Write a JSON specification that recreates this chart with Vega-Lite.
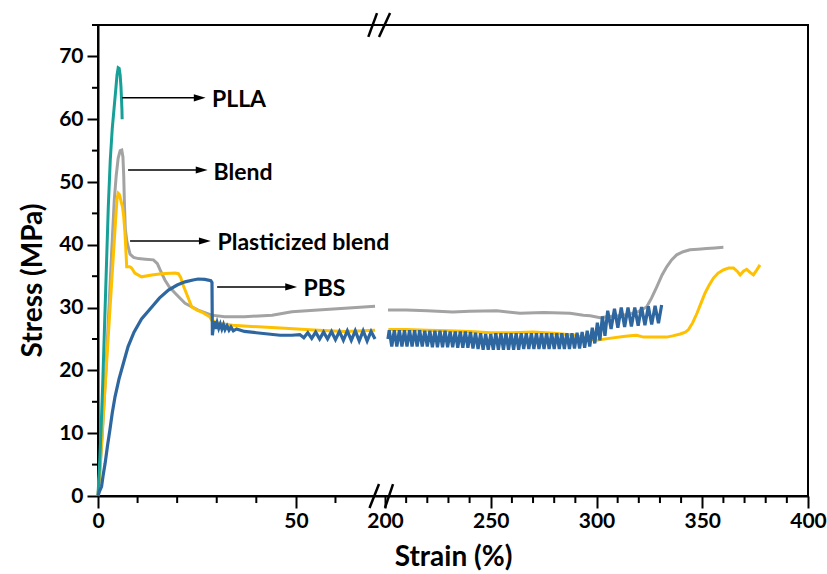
{
  "$schema": "https://vega.github.io/schema/vega-lite/v6.json",
  "width": 710,
  "height": 471,
  "autosize": "none",
  "padding": {"left": 98, "top": 25, "right": 19, "bottom": 78},
  "background": "white",
  "config": {"view": {"stroke": "black", "strokeWidth": 2}, "font": "Lato", "axis": {"labelOverlap": false, "labelFlush": false}},
  "datasets": {
    "curves": [
      {"m":"PLLA","s":"L","x":0,"y":0},{"m":"PLLA","s":"L","x":0.4,"y":5},{"m":"PLLA","s":"L","x":0.8,"y":11},{"m":"PLLA","s":"L","x":1.2,"y":18},{"m":"PLLA","s":"L","x":1.6,"y":26},{"m":"PLLA","s":"L","x":2.1,"y":36},{"m":"PLLA","s":"L","x":2.6,"y":46},{"m":"PLLA","s":"L","x":3.1,"y":53.5},{"m":"PLLA","s":"L","x":3.6,"y":58.5},{"m":"PLLA","s":"L","x":4.1,"y":62},{"m":"PLLA","s":"L","x":4.5,"y":64.8},{"m":"PLLA","s":"L","x":4.8,"y":67},{"m":"PLLA","s":"L","x":5.1,"y":68.2},{"m":"PLLA","s":"L","x":5.35,"y":68.1},{"m":"PLLA","s":"L","x":5.6,"y":67},{"m":"PLLA","s":"L","x":5.8,"y":65.2},{"m":"PLLA","s":"L","x":5.95,"y":63},{"m":"PLLA","s":"L","x":6.05,"y":61.5},{"m":"PLLA","s":"L","x":6.1,"y":60},

      {"m":"Blend","s":"L","x":0,"y":0},{"m":"Blend","s":"L","x":0.5,"y":4},{"m":"Blend","s":"L","x":1,"y":9},{"m":"Blend","s":"L","x":1.5,"y":14.5},{"m":"Blend","s":"L","x":2,"y":20},{"m":"Blend","s":"L","x":2.5,"y":26.5},{"m":"Blend","s":"L","x":3,"y":33},{"m":"Blend","s":"L","x":3.5,"y":39.5},{"m":"Blend","s":"L","x":4.1,"y":47},{"m":"Blend","s":"L","x":4.6,"y":51},{"m":"Blend","s":"L","x":5.1,"y":53.8},{"m":"Blend","s":"L","x":5.6,"y":55},{"m":"Blend","s":"L","x":6.0,"y":55.1},{"m":"Blend","s":"L","x":6.3,"y":54},{"m":"Blend","s":"L","x":6.5,"y":51},{"m":"Blend","s":"L","x":6.7,"y":46},{"m":"Blend","s":"L","x":6.9,"y":42.5},{"m":"Blend","s":"L","x":7.3,"y":40.5},{"m":"Blend","s":"L","x":8.1,"y":38.5},{"m":"Blend","s":"L","x":9,"y":38},{"m":"Blend","s":"L","x":10.2,"y":37.8},{"m":"Blend","s":"L","x":12,"y":37.7},{"m":"Blend","s":"L","x":14,"y":37.6},{"m":"Blend","s":"L","x":15,"y":37},{"m":"Blend","s":"L","x":15.7,"y":36},{"m":"Blend","s":"L","x":16.9,"y":34.4},{"m":"Blend","s":"L","x":18,"y":33.3},{"m":"Blend","s":"L","x":19.5,"y":32.3},{"m":"Blend","s":"L","x":22,"y":30.7},{"m":"Blend","s":"L","x":25.3,"y":29.6},{"m":"Blend","s":"L","x":28.7,"y":28.8},{"m":"Blend","s":"L","x":32,"y":28.55},{"m":"Blend","s":"L","x":37,"y":28.55},{"m":"Blend","s":"L","x":44,"y":28.8},{"m":"Blend","s":"L","x":49,"y":29.35},{"m":"Blend","s":"L","x":55.6,"y":29.6},{"m":"Blend","s":"L","x":62.4,"y":29.9},{"m":"Blend","s":"L","x":70,"y":30.2},
      {"m":"Blend","s":"R","x":201.4,"y":29.6},{"m":"Blend","s":"R","x":210,"y":29.6},{"m":"Blend","s":"R","x":220,"y":29.5},{"m":"Blend","s":"R","x":232,"y":29.3},{"m":"Blend","s":"R","x":240,"y":29.4},{"m":"Blend","s":"R","x":252.8,"y":29.5},{"m":"Blend","s":"R","x":263.8,"y":29.1},{"m":"Blend","s":"R","x":275,"y":29.2},{"m":"Blend","s":"R","x":287.5,"y":29.1},{"m":"Blend","s":"R","x":293.8,"y":28.8},{"m":"Blend","s":"R","x":297,"y":28.7},{"m":"Blend","s":"R","x":301.7,"y":28.4},{"m":"Blend","s":"R","x":304.8,"y":28.55},{"m":"Blend","s":"R","x":310,"y":28.7},{"m":"Blend","s":"R","x":315,"y":28.9},{"m":"Blend","s":"R","x":320,"y":29.4},{"m":"Blend","s":"R","x":323.7,"y":30.1},{"m":"Blend","s":"R","x":326,"y":31.5},{"m":"Blend","s":"R","x":328.5,"y":33.3},{"m":"Blend","s":"R","x":331,"y":35.2},{"m":"Blend","s":"R","x":333.2,"y":36.5},{"m":"Blend","s":"R","x":335.5,"y":37.6},{"m":"Blend","s":"R","x":337.9,"y":38.4},{"m":"Blend","s":"R","x":341,"y":38.9},{"m":"Blend","s":"R","x":344.2,"y":39.2},{"m":"Blend","s":"R","x":348,"y":39.3},{"m":"Blend","s":"R","x":352.1,"y":39.4},{"m":"Blend","s":"R","x":356,"y":39.5},{"m":"Blend","s":"R","x":360,"y":39.6},

      {"m":"Plasticized blend","s":"L","x":0,"y":0},{"m":"Plasticized blend","s":"L","x":0.5,"y":4.5},{"m":"Plasticized blend","s":"L","x":1,"y":9.5},{"m":"Plasticized blend","s":"L","x":1.5,"y":14.5},{"m":"Plasticized blend","s":"L","x":2,"y":19.5},{"m":"Plasticized blend","s":"L","x":2.5,"y":24.5},{"m":"Plasticized blend","s":"L","x":3,"y":29.5},{"m":"Plasticized blend","s":"L","x":3.5,"y":34.5},{"m":"Plasticized blend","s":"L","x":4,"y":39.5},{"m":"Plasticized blend","s":"L","x":4.5,"y":44.5},{"m":"Plasticized blend","s":"L","x":4.8,"y":47.3},{"m":"Plasticized blend","s":"L","x":5.1,"y":48.2},{"m":"Plasticized blend","s":"L","x":5.4,"y":48},{"m":"Plasticized blend","s":"L","x":5.8,"y":47},{"m":"Plasticized blend","s":"L","x":6.2,"y":46},{"m":"Plasticized blend","s":"L","x":6.5,"y":44.5},{"m":"Plasticized blend","s":"L","x":6.8,"y":42},{"m":"Plasticized blend","s":"L","x":7.0,"y":39.7},{"m":"Plasticized blend","s":"L","x":7.25,"y":36.5},{"m":"Plasticized blend","s":"L","x":8,"y":36.5},{"m":"Plasticized blend","s":"L","x":8.5,"y":36.3},{"m":"Plasticized blend","s":"L","x":9.3,"y":35.5},{"m":"Plasticized blend","s":"L","x":11,"y":34.9},{"m":"Plasticized blend","s":"L","x":13.6,"y":35.2},{"m":"Plasticized blend","s":"L","x":16,"y":35.4},{"m":"Plasticized blend","s":"L","x":19.5,"y":35.5},{"m":"Plasticized blend","s":"L","x":20.3,"y":35.4},{"m":"Plasticized blend","s":"L","x":20.9,"y":34.8},{"m":"Plasticized blend","s":"L","x":21.5,"y":33.6},{"m":"Plasticized blend","s":"L","x":22,"y":32.8},{"m":"Plasticized blend","s":"L","x":23,"y":31.2},{"m":"Plasticized blend","s":"L","x":23.7,"y":30.1},{"m":"Plasticized blend","s":"L","x":25,"y":29.6},{"m":"Plasticized blend","s":"L","x":26.2,"y":29.3},{"m":"Plasticized blend","s":"L","x":28.3,"y":28.5},{"m":"Plasticized blend","s":"L","x":28.7,"y":28.0},{"m":"Plasticized blend","s":"L","x":30.4,"y":27.5},{"m":"Plasticized blend","s":"L","x":34,"y":27.2},{"m":"Plasticized blend","s":"L","x":38.8,"y":27.0},{"m":"Plasticized blend","s":"L","x":47.2,"y":26.7},{"m":"Plasticized blend","s":"L","x":55.7,"y":26.4},{"m":"Plasticized blend","s":"L","x":62.4,"y":26.2},{"m":"Plasticized blend","s":"L","x":70,"y":26.4},
      {"m":"Plasticized blend","s":"R","x":201.6,"y":26.5},{"m":"Plasticized blend","s":"R","x":210,"y":26.5},{"m":"Plasticized blend","s":"R","x":220,"y":26.4},{"m":"Plasticized blend","s":"R","x":230,"y":26.3},{"m":"Plasticized blend","s":"R","x":240,"y":26.2},{"m":"Plasticized blend","s":"R","x":250,"y":26.0},{"m":"Plasticized blend","s":"R","x":260,"y":26.0},{"m":"Plasticized blend","s":"R","x":270,"y":26.1},{"m":"Plasticized blend","s":"R","x":280,"y":25.9},{"m":"Plasticized blend","s":"R","x":290,"y":25.6},{"m":"Plasticized blend","s":"R","x":296,"y":25.0},{"m":"Plasticized blend","s":"R","x":300,"y":24.8},{"m":"Plasticized blend","s":"R","x":306,"y":25.1},{"m":"Plasticized blend","s":"R","x":312.7,"y":25.4},{"m":"Plasticized blend","s":"R","x":316,"y":25.5},{"m":"Plasticized blend","s":"R","x":319,"y":25.6},{"m":"Plasticized blend","s":"R","x":322.3,"y":25.3},{"m":"Plasticized blend","s":"R","x":328,"y":25.3},{"m":"Plasticized blend","s":"R","x":333.2,"y":25.3},{"m":"Plasticized blend","s":"R","x":336,"y":25.5},{"m":"Plasticized blend","s":"R","x":339.6,"y":25.8},{"m":"Plasticized blend","s":"R","x":342,"y":26.1},{"m":"Plasticized blend","s":"R","x":343.5,"y":26.5},{"m":"Plasticized blend","s":"R","x":345.5,"y":27.6},{"m":"Plasticized blend","s":"R","x":347.5,"y":29.1},{"m":"Plasticized blend","s":"R","x":349.5,"y":30.8},{"m":"Plasticized blend","s":"R","x":351.3,"y":32.3},{"m":"Plasticized blend","s":"R","x":353.3,"y":33.6},{"m":"Plasticized blend","s":"R","x":355.3,"y":34.7},{"m":"Plasticized blend","s":"R","x":357.5,"y":35.5},{"m":"Plasticized blend","s":"R","x":360,"y":36.0},{"m":"Plasticized blend","s":"R","x":362.5,"y":36.3},{"m":"Plasticized blend","s":"R","x":364.8,"y":36.3},{"m":"Plasticized blend","s":"R","x":366.5,"y":35.8},{"m":"Plasticized blend","s":"R","x":367.9,"y":35.2},{"m":"Plasticized blend","s":"R","x":369.5,"y":35.8},{"m":"Plasticized blend","s":"R","x":371.0,"y":36.1},{"m":"Plasticized blend","s":"R","x":372.6,"y":35.6},{"m":"Plasticized blend","s":"R","x":374.2,"y":35.2},{"m":"Plasticized blend","s":"R","x":375.8,"y":36.0},{"m":"Plasticized blend","s":"R","x":377.3,"y":36.8},

      {"m":"PBS","s":"L","x":0,"y":0},{"m":"PBS","s":"L","x":0.4,"y":0.8},{"m":"PBS","s":"L","x":0.9,"y":1.5},{"m":"PBS","s":"L","x":1.3,"y":3.3},{"m":"PBS","s":"L","x":1.8,"y":5.2},{"m":"PBS","s":"L","x":2.4,"y":8},{"m":"PBS","s":"L","x":3.0,"y":10.5},{"m":"PBS","s":"L","x":3.6,"y":13.2},{"m":"PBS","s":"L","x":4.3,"y":15.8},{"m":"PBS","s":"L","x":5.3,"y":18.6},{"m":"PBS","s":"L","x":6.4,"y":21.1},{"m":"PBS","s":"L","x":7.6,"y":23.8},{"m":"PBS","s":"L","x":9.1,"y":26.1},{"m":"PBS","s":"L","x":11,"y":28.2},{"m":"PBS","s":"L","x":13.6,"y":30.1},{"m":"PBS","s":"L","x":15.5,"y":31.5},{"m":"PBS","s":"L","x":17.8,"y":32.8},{"m":"PBS","s":"L","x":20,"y":33.6},{"m":"PBS","s":"L","x":22,"y":34.1},{"m":"PBS","s":"L","x":24,"y":34.4},{"m":"PBS","s":"L","x":25.3,"y":34.55},{"m":"PBS","s":"L","x":27,"y":34.5},{"m":"PBS","s":"L","x":28.5,"y":34.3},{"m":"PBS","s":"L","x":28.8,"y":34.0},{"m":"PBS","s":"L","x":28.9,"y":25.6},{"m":"PBS","s":"L","x":29.3,"y":27.8},{"m":"PBS","s":"L","x":29.7,"y":26.6},{"m":"PBS","s":"L","x":30.1,"y":27.6},{"m":"PBS","s":"L","x":30.5,"y":26.7},{"m":"PBS","s":"L","x":30.9,"y":27.4},{"m":"PBS","s":"L","x":31.3,"y":26.6},{"m":"PBS","s":"L","x":31.7,"y":27.3},{"m":"PBS","s":"L","x":32.1,"y":26.5},{"m":"PBS","s":"L","x":32.6,"y":27.1},{"m":"PBS","s":"L","x":33.1,"y":26.4},{"m":"PBS","s":"L","x":33.6,"y":26.9},{"m":"PBS","s":"L","x":34.2,"y":26.3},{"m":"PBS","s":"L","x":35,"y":26.6},{"m":"PBS","s":"L","x":37,"y":26.2},{"m":"PBS","s":"L","x":40,"y":26.0},{"m":"PBS","s":"L","x":43,"y":25.8},{"m":"PBS","s":"L","x":46,"y":25.6},{"m":"PBS","s":"L","x":49,"y":25.6},{"m":"PBS","s":"L","x":51,"y":25.7},{"m":"PBS","s":"L","x":52,"y":25.2},{"m":"PBS","s":"L","x":53,"y":26.0},{"m":"PBS","s":"L","x":54,"y":25.1},{"m":"PBS","s":"L","x":55,"y":26.1},{"m":"PBS","s":"L","x":56,"y":25.0},{"m":"PBS","s":"L","x":57,"y":26.1},{"m":"PBS","s":"L","x":58,"y":25.0},{"m":"PBS","s":"L","x":59,"y":26.2},{"m":"PBS","s":"L","x":60,"y":24.9},{"m":"PBS","s":"L","x":61,"y":26.2},{"m":"PBS","s":"L","x":62,"y":24.8},{"m":"PBS","s":"L","x":63,"y":26.3},{"m":"PBS","s":"L","x":64,"y":24.8},{"m":"PBS","s":"L","x":65,"y":26.3},{"m":"PBS","s":"L","x":66,"y":24.7},{"m":"PBS","s":"L","x":67,"y":26.3},{"m":"PBS","s":"L","x":68,"y":24.7},{"m":"PBS","s":"L","x":69,"y":26.2},{"m":"PBS","s":"L","x":70,"y":25.0},
      {"m":"PBS","s":"R","x":201.4,"y":25.0},{"m":"PBS","s":"R","x":202.0,"y":26.4},{"m":"PBS","s":"R","x":203.2,"y":23.8},{"m":"PBS","s":"R","x":204.4,"y":26.4},{"m":"PBS","s":"R","x":205.6,"y":23.8},{"m":"PBS","s":"R","x":206.8,"y":26.4},{"m":"PBS","s":"R","x":208.0,"y":23.8},{"m":"PBS","s":"R","x":209.2,"y":26.4},{"m":"PBS","s":"R","x":210.4,"y":23.8},{"m":"PBS","s":"R","x":211.6,"y":26.4},{"m":"PBS","s":"R","x":212.8,"y":23.8},{"m":"PBS","s":"R","x":214.0,"y":26.4},{"m":"PBS","s":"R","x":215.2,"y":23.8},{"m":"PBS","s":"R","x":216.4,"y":26.4},{"m":"PBS","s":"R","x":217.6,"y":23.8},{"m":"PBS","s":"R","x":218.8,"y":26.3},{"m":"PBS","s":"R","x":220.0,"y":23.8},{"m":"PBS","s":"R","x":221.2,"y":26.3},{"m":"PBS","s":"R","x":222.4,"y":23.7},{"m":"PBS","s":"R","x":223.6,"y":26.3},{"m":"PBS","s":"R","x":224.8,"y":23.7},{"m":"PBS","s":"R","x":226.0,"y":26.3},{"m":"PBS","s":"R","x":227.2,"y":23.7},{"m":"PBS","s":"R","x":228.4,"y":26.3},{"m":"PBS","s":"R","x":229.6,"y":23.7},{"m":"PBS","s":"R","x":230.8,"y":26.2},{"m":"PBS","s":"R","x":232.0,"y":23.7},{"m":"PBS","s":"R","x":233.2,"y":26.2},{"m":"PBS","s":"R","x":234.4,"y":23.6},{"m":"PBS","s":"R","x":235.6,"y":26.2},{"m":"PBS","s":"R","x":236.8,"y":23.6},{"m":"PBS","s":"R","x":238.0,"y":26.2},{"m":"PBS","s":"R","x":239.2,"y":23.6},{"m":"PBS","s":"R","x":240.4,"y":26.1},{"m":"PBS","s":"R","x":241.6,"y":23.5},{"m":"PBS","s":"R","x":242.8,"y":26.0},{"m":"PBS","s":"R","x":244.0,"y":23.4},{"m":"PBS","s":"R","x":245.2,"y":25.9},{"m":"PBS","s":"R","x":246.4,"y":23.3},{"m":"PBS","s":"R","x":247.6,"y":25.8},{"m":"PBS","s":"R","x":248.8,"y":23.3},{"m":"PBS","s":"R","x":250.0,"y":25.8},{"m":"PBS","s":"R","x":251.2,"y":23.3},{"m":"PBS","s":"R","x":252.4,"y":25.9},{"m":"PBS","s":"R","x":253.6,"y":23.3},{"m":"PBS","s":"R","x":254.8,"y":25.9},{"m":"PBS","s":"R","x":256.0,"y":23.3},{"m":"PBS","s":"R","x":257.2,"y":25.9},{"m":"PBS","s":"R","x":258.4,"y":23.3},{"m":"PBS","s":"R","x":259.6,"y":25.9},{"m":"PBS","s":"R","x":260.8,"y":23.3},{"m":"PBS","s":"R","x":262.0,"y":25.9},{"m":"PBS","s":"R","x":263.2,"y":23.3},{"m":"PBS","s":"R","x":264.4,"y":25.9},{"m":"PBS","s":"R","x":265.6,"y":23.4},{"m":"PBS","s":"R","x":266.8,"y":25.9},{"m":"PBS","s":"R","x":268.0,"y":23.4},{"m":"PBS","s":"R","x":269.2,"y":25.9},{"m":"PBS","s":"R","x":270.4,"y":23.4},{"m":"PBS","s":"R","x":271.6,"y":25.9},{"m":"PBS","s":"R","x":272.8,"y":23.4},{"m":"PBS","s":"R","x":274.0,"y":25.9},{"m":"PBS","s":"R","x":275.2,"y":23.4},{"m":"PBS","s":"R","x":276.4,"y":25.9},{"m":"PBS","s":"R","x":277.6,"y":23.4},{"m":"PBS","s":"R","x":278.8,"y":25.9},{"m":"PBS","s":"R","x":280.0,"y":23.4},{"m":"PBS","s":"R","x":281.2,"y":25.9},{"m":"PBS","s":"R","x":282.4,"y":23.4},{"m":"PBS","s":"R","x":283.6,"y":25.9},{"m":"PBS","s":"R","x":284.8,"y":23.4},{"m":"PBS","s":"R","x":286.0,"y":25.9},{"m":"PBS","s":"R","x":287.2,"y":23.4},{"m":"PBS","s":"R","x":288.4,"y":25.9},{"m":"PBS","s":"R","x":289.6,"y":23.5},{"m":"PBS","s":"R","x":290.8,"y":26.0},{"m":"PBS","s":"R","x":292.0,"y":23.5},{"m":"PBS","s":"R","x":293.2,"y":26.1},{"m":"PBS","s":"R","x":294.4,"y":23.6},{"m":"PBS","s":"R","x":295.6,"y":26.3},{"m":"PBS","s":"R","x":296.8,"y":23.8},{"m":"PBS","s":"R","x":298.0,"y":26.8},{"m":"PBS","s":"R","x":299.2,"y":24.3},{"m":"PBS","s":"R","x":300.4,"y":27.6},{"m":"PBS","s":"R","x":301.6,"y":24.8},{"m":"PBS","s":"R","x":302.8,"y":28.6},{"m":"PBS","s":"R","x":304.0,"y":25.5},{"m":"PBS","s":"R","x":305.3,"y":29.5},{"m":"PBS","s":"R","x":306.9,"y":26.6},{"m":"PBS","s":"R","x":308.5,"y":29.8},{"m":"PBS","s":"R","x":310.1,"y":26.8},{"m":"PBS","s":"R","x":311.7,"y":30.0},{"m":"PBS","s":"R","x":313.3,"y":26.9},{"m":"PBS","s":"R","x":314.9,"y":30.0},{"m":"PBS","s":"R","x":316.5,"y":27.0},{"m":"PBS","s":"R","x":318.1,"y":30.0},{"m":"PBS","s":"R","x":319.7,"y":27.1},{"m":"PBS","s":"R","x":321.3,"y":30.1},{"m":"PBS","s":"R","x":322.9,"y":27.2},{"m":"PBS","s":"R","x":324.5,"y":30.2},{"m":"PBS","s":"R","x":326.1,"y":27.3},{"m":"PBS","s":"R","x":327.7,"y":30.3},{"m":"PBS","s":"R","x":329.3,"y":27.5},{"m":"PBS","s":"R","x":330.8,"y":30.4}
    ],
    "ann": [
      {"t":"PLLA","a":6.1,"b":25.8,"h":25.7,"tx":28.8,"y":63.4,"ty":63.1},
      {"t":"Blend","a":7.6,"b":26.3,"h":26.2,"tx":29.2,"y":51.9,"ty":51.5},
      {"t":"Plasticized blend","a":8.1,"b":27.1,"h":27.0,"tx":30.2,"y":40.6,"ty":40.3},
      {"t":"PBS","a":30.1,"b":48.9,"h":48.8,"tx":51.9,"y":33.3,"ty":33.0}
    ],
    "xminor": [{"v":10},{"v":20},{"v":30},{"v":40},{"v":60},{"v":210},{"v":220},{"v":230},{"v":240},{"v":260},{"v":270},{"v":280},{"v":290},{"v":310},{"v":320},{"v":330},{"v":340},{"v":360},{"v":370},{"v":380},{"v":390}],
    "yminor": [{"v":5},{"v":15},{"v":25},{"v":35},{"v":45},{"v":55},{"v":65},{"v":75}],
    "breaks": [
      {"g":"b1","x":68.6,"y":-1.9},{"g":"b1","x":71,"y":1.9},
      {"g":"b2","x":200,"y":-1.9},{"g":"b2","x":203.8,"y":1.9},
      {"g":"t1","x":68.3,"y":73.1},{"g":"t1","x":70.5,"y":76.9},
      {"g":"t2","x":71.2,"y":73.1},{"g":"t2","x":202.4,"y":76.9}
    ]
  },
  "layer": [
    {
      "data": {"name": "curves"},
      "transform": [{"filter": {"field": "m", "equal": "Blend"}}],
      "mark": {"type": "line", "color": "#a3a3a3", "strokeWidth": 3},
      "encoding": {
        "x": {"field": "x", "type": "quantitative",
          "scale": {"domain": [0, 71, 200, 400], "range": [0, 281, 287, 710], "nice": false, "zero": false},
          "axis": {
            "values": [0,50,200,250,300,350,400],
            "tickSize": 12,
            "tickColor": "black", "tickWidth": 2, "domainColor": "black", "domainWidth": 2,
            "labelFont": "Lato", "labelFontSize": 21, "labelFontWeight": "bold", "labelColor": "black", "labelPadding": 2,
            "labelOverlap": false, "labelFlush": false, "grid": false,
            "title": "Strain (%)", "titleFont": "Lato", "titleFontSize": 28, "titleFontWeight": "bold", "titleColor": "black",
            "titleY": 69, "titleBaseline": "alphabetic"
          }},
        "y": {"field": "y", "type": "quantitative",
          "scale": {"domain": [0, 75], "nice": false, "zero": false},
          "axis": {
            "values": [0,10,20,30,40,50,60,70],
            "tickSize": 11,
            "tickColor": "black", "tickWidth": 2, "domainColor": "black", "domainWidth": 2,
            "labelFont": "Lato", "labelFontSize": 21, "labelFontWeight": "bold", "labelColor": "black", "labelPadding": 4,
            "labelOverlap": false, "grid": false,
            "title": "Stress (MPa)", "titleFont": "Lato", "titleFontSize": 28, "titleFontWeight": "bold", "titleColor": "black",
            "titleX": -65, "titleY": 255, "titleAngle": -90, "titleAlign": "center", "titleBaseline": "middle"
          }},
        "detail": {"field": "s"}
      }
    },
    {
      "data": {"name": "curves"},
      "transform": [{"filter": {"field": "m", "equal": "Plasticized blend"}}],
      "mark": {"type": "line", "color": "#ffc000", "strokeWidth": 3},
      "encoding": {"x": {"field": "x", "type": "quantitative"}, "y": {"field": "y", "type": "quantitative"}, "detail": {"field": "s"}}
    },
    {
      "data": {"name": "curves"},
      "transform": [{"filter": {"field": "m", "equal": "PLLA"}}],
      "mark": {"type": "line", "color": "#17a097", "strokeWidth": 3},
      "encoding": {"x": {"field": "x", "type": "quantitative"}, "y": {"field": "y", "type": "quantitative"}, "detail": {"field": "s"}}
    },
    {
      "data": {"name": "curves"},
      "transform": [{"filter": {"field": "m", "equal": "PBS"}}],
      "mark": {"type": "line", "color": "#2e67a0", "strokeWidth": 3.2},
      "encoding": {"x": {"field": "x", "type": "quantitative"}, "y": {"field": "y", "type": "quantitative"}, "detail": {"field": "s"}}
    },
    {
      "data": {"name": "xminor"},
      "mark": {"type": "rule", "color": "black", "strokeWidth": 2},
      "encoding": {"x": {"field": "v", "type": "quantitative"}, "y": {"datum": 0}, "y2": {"datum": -1.12}}
    },
    {
      "data": {"name": "yminor"},
      "mark": {"type": "rule", "color": "black", "strokeWidth": 2},
      "encoding": {"y": {"field": "v", "type": "quantitative"}, "x": {"datum": 0}, "x2": {"datum": -1.52}}
    },
    {
      "mark": {"type": "rect", "fill": "white"},
      "encoding": {"x": {"datum": 69.9}, "x2": {"datum": 201.9}, "y": {"datum": -0.6}, "y2": {"datum": 0.6}}
    },
    {
      "mark": {"type": "rect", "fill": "white"},
      "encoding": {"x": {"datum": 69.9}, "x2": {"datum": 201.9}, "y": {"datum": 74.4}, "y2": {"datum": 75.6}}
    },
    {
      "data": {"name": "breaks"},
      "mark": {"type": "line", "color": "black", "strokeWidth": 2.5},
      "encoding": {"x": {"field": "x", "type": "quantitative"}, "y": {"field": "y", "type": "quantitative"}, "detail": {"field": "g"}}
    },
    {
      "data": {"name": "ann"},
      "mark": {"type": "rule", "color": "black", "strokeWidth": 1.5},
      "encoding": {"x": {"field": "a", "type": "quantitative"}, "x2": {"field": "b"}, "y": {"field": "y", "type": "quantitative"}}
    },
    {
      "data": {"name": "ann"},
      "mark": {"type": "point", "shape": "M -1 -0.6 L 1 0 L -1 0.6 Z", "filled": true, "color": "black", "opacity": 1, "size": 140},
      "encoding": {"x": {"field": "h", "type": "quantitative"}, "y": {"field": "y", "type": "quantitative"}}
    },
    {
      "data": {"name": "ann"},
      "mark": {"type": "text", "align": "left", "baseline": "middle", "font": "Lato", "fontSize": 23, "fontWeight": "bold", "color": "black"},
      "encoding": {"x": {"field": "tx", "type": "quantitative"}, "y": {"field": "ty", "type": "quantitative"}, "text": {"field": "t"}}
    }
  ]
}
